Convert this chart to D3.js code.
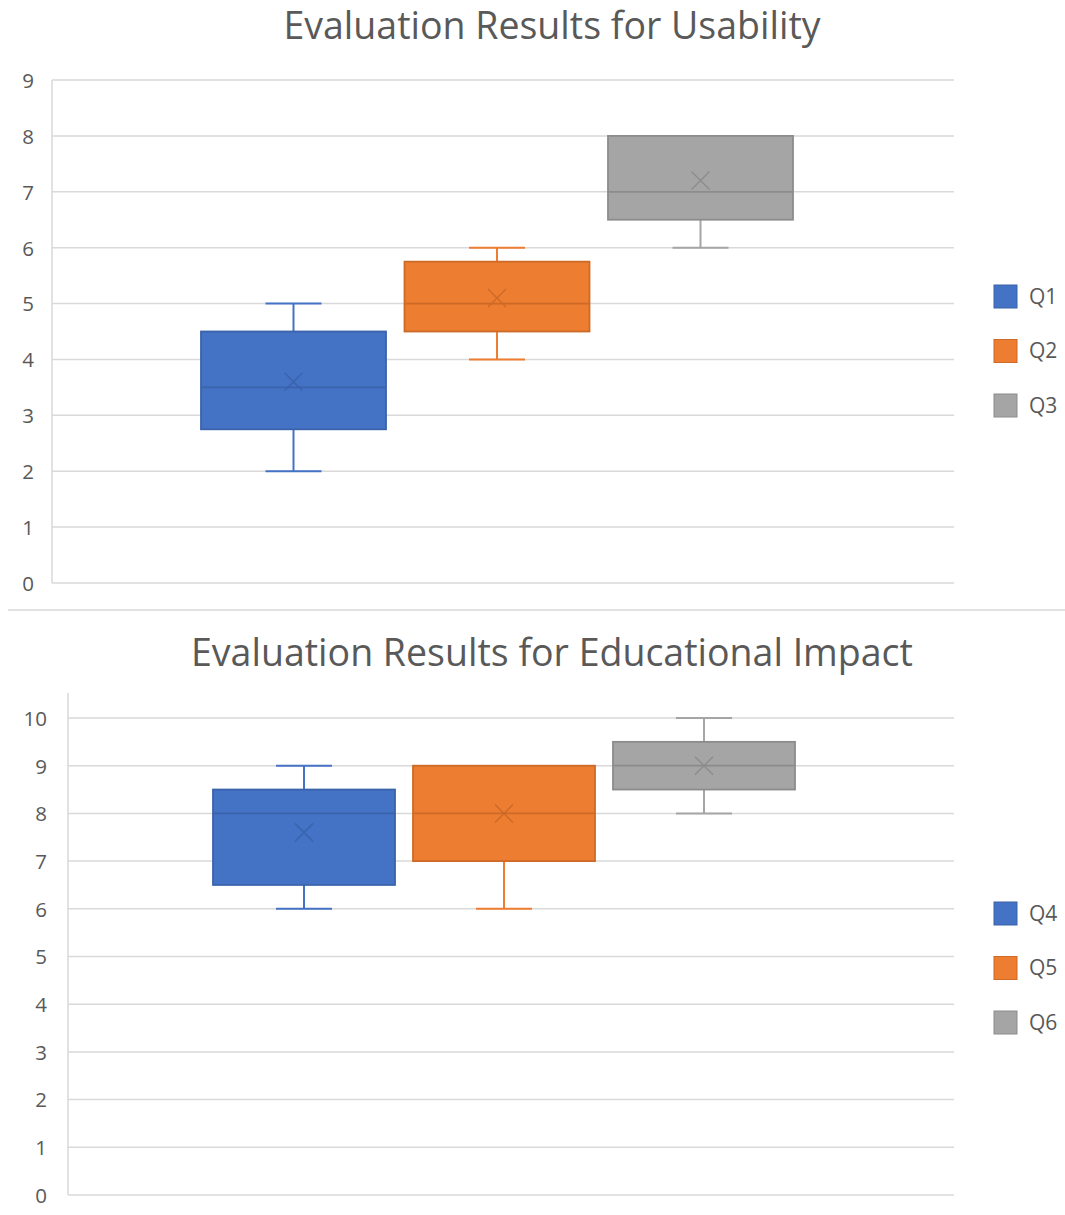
<!DOCTYPE html>
<html>
<head>
<meta charset="utf-8">
<script src="https://cdn.jsdelivr.net/npm/d3@7"></script>
<style>
  html, body { margin: 0; padding: 0; background: #fff; }
  svg { display: block; }
  text { font-family: "Open Sans", "Noto Sans", sans-serif; fill: #595959; }
</style>
</head>
<body>
<svg id="chart" width="1065" height="1215"></svg>
<script>
// Usability questions (Q1–Q3)
const usabilityNames  = ["Q1", "Q2", "Q3"];
const usabilityMin    = [2, 4, 6];
const usabilityQ1     = [2.75, 4.5, 6.5];
const usabilityMedian = [3.5, 5, 7];
const usabilityQ3     = [4.5, 5.75, 8];
const usabilityMax    = [5, 6, 8];
const usabilityMean   = [3.6, 5.1, 7.2];
const usabilityTicks  = [0, 1, 2, 3, 4, 5, 6, 7, 8, 9];

// Educational impact questions (Q4–Q6)
const impactNames  = ["Q4", "Q5", "Q6"];
const impactMin    = [6, 6, 8];
const impactQ1     = [6.5, 7, 8.5];
const impactMedian = [8, 8, 9];
const impactQ3     = [8.5, 9, 9.5];
const impactMax    = [9, 9, 10];
const impactMean   = [7.6, 8, 9];
const impactTicks  = [0, 1, 2, 3, 4, 5, 6, 7, 8, 9, 10];

const seriesColors = ["#4472C4", "#ED7D31", "#A5A5A5"];
const seriesDark   = ["#3A63AC", "#CD6A27", "#8C8C8C"];
const gridColor = "#D9D9D9";

const svg = d3.select("#chart");

function drawBoxChart(cfg) {
  const g = svg.append("g");
  const y = d3.scaleLinear().domain([0, cfg.yMax]).range([cfg.bottom, cfg.top]);
  const x = d3.scaleBand().domain(cfg.names).range(cfg.boxRange).paddingInner(cfg.pad).paddingOuter(0);

  // title
  g.append("text")
    .attr("x", cfg.titleX).attr("y", cfg.titleY)
    .attr("text-anchor", "middle")
    .style("font-size", cfg.titleSize + "px")
    .text(cfg.title);

  // horizontal gridlines
  g.append("g").selectAll("line").data(cfg.ticks).join("line")
    .attr("x1", cfg.left).attr("x2", cfg.right)
    .attr("y1", d => y(d)).attr("y2", d => y(d))
    .attr("stroke", gridColor).attr("stroke-width", 1.5);

  // left axis line
  g.append("line")
    .attr("x1", cfg.left).attr("x2", cfg.left)
    .attr("y1", cfg.axisTop).attr("y2", y(0))
    .attr("stroke", gridColor).attr("stroke-width", 1.5);

  // tick labels via d3 axis
  const axis = d3.axisLeft(y).tickValues(cfg.ticks).tickSize(0).tickPadding(0).tickFormat(d3.format("d"));
  const ax = g.append("g").attr("transform", `translate(${cfg.labelRight},0)`).call(axis);
  ax.select(".domain").remove();
  ax.selectAll("text")
    .attr("dy", "0.36em")
    .style("font-size", "20.5px")
    .style("fill", "#595959")
    .style("font-family", '"Open Sans", "Noto Sans", sans-serif');

  const bw = x.bandwidth();
  const capW = 56;
  cfg.names.forEach((name, i) => {
    const cx = x(name) + bw / 2;
    const c = seriesColors[i], dk = seriesDark[i];
    const bg = g.append("g");
    // whiskers
    if (cfg.max[i] > cfg.q3[i]) {
      bg.append("line").attr("x1", cx).attr("x2", cx)
        .attr("y1", y(cfg.q3[i])).attr("y2", y(cfg.max[i]))
        .attr("stroke", c).attr("stroke-width", 2);
      bg.append("line").attr("x1", cx - capW / 2).attr("x2", cx + capW / 2)
        .attr("y1", y(cfg.max[i])).attr("y2", y(cfg.max[i]))
        .attr("stroke", c).attr("stroke-width", 2);
    }
    if (cfg.min[i] < cfg.q1[i]) {
      bg.append("line").attr("x1", cx).attr("x2", cx)
        .attr("y1", y(cfg.q1[i])).attr("y2", y(cfg.min[i]))
        .attr("stroke", c).attr("stroke-width", 2);
      bg.append("line").attr("x1", cx - capW / 2).attr("x2", cx + capW / 2)
        .attr("y1", y(cfg.min[i])).attr("y2", y(cfg.min[i]))
        .attr("stroke", c).attr("stroke-width", 2);
    }
    // box
    bg.append("rect")
      .attr("x", x(name)).attr("width", bw)
      .attr("y", y(cfg.q3[i])).attr("height", y(cfg.q1[i]) - y(cfg.q3[i]))
      .attr("fill", c).attr("stroke", dk).attr("stroke-width", 1.8);
    // median
    bg.append("line")
      .attr("x1", x(name)).attr("x2", x(name) + bw)
      .attr("y1", y(cfg.median[i])).attr("y2", y(cfg.median[i]))
      .attr("stroke", dk).attr("stroke-width", 1.8);
    // mean marker
    const my = y(cfg.mean[i]), s = 9;
    bg.append("path")
      .attr("d", `M${cx - s},${my - s}L${cx + s},${my + s}M${cx - s},${my + s}L${cx + s},${my - s}`)
      .attr("stroke", dk).attr("stroke-width", 1.4).attr("fill", "none");
  });

  // legend
  const lg = g.append("g");
  cfg.names.forEach((name, i) => {
    const ly = cfg.legendY + i * 54.5;
    lg.append("rect").attr("x", 994).attr("y", ly - 11).attr("width", 23).attr("height", 23)
      .attr("fill", seriesColors[i]).attr("stroke", seriesDark[i]).attr("stroke-width", 1);
    lg.append("text").attr("x", 1029).attr("y", ly).attr("dy", "0.36em")
      .style("font-size", "21px").text(name);
  });
}

drawBoxChart({
  title: "Evaluation Results for Usability", titleX: 552, titleY: 39, titleSize: 37.5,
  names: usabilityNames, min: usabilityMin, q1: usabilityQ1, median: usabilityMedian,
  q3: usabilityQ3, max: usabilityMax, mean: usabilityMean, ticks: usabilityTicks,
  yMax: 9, top: 80, bottom: 583, left: 52, right: 954, axisTop: 80, labelRight: 34,
  boxRange: [201, 793], pad: 0.0909, legendY: 296
});

drawBoxChart({
  title: "Evaluation Results for Educational Impact", titleX: 552, titleY: 666, titleSize: 37.5,
  names: impactNames, min: impactMin, q1: impactQ1, median: impactMedian,
  q3: impactQ3, max: impactMax, mean: impactMean, ticks: impactTicks,
  yMax: 10, top: 718, bottom: 1195, left: 68, right: 954, axisTop: 693, labelRight: 47,
  boxRange: [213, 795], pad: 0.09, legendY: 913
});

// separator between the two charts
svg.append("line").attr("x1", 8).attr("x2", 1065).attr("y1", 610).attr("y2", 610)
  .attr("stroke", gridColor).attr("stroke-width", 1.5);
</script>
</body>
</html>
